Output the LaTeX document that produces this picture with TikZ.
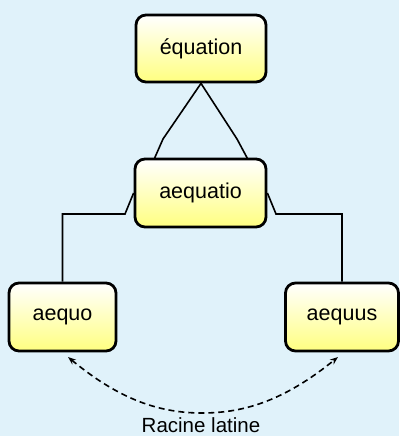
\documentclass[tikz,border=0pt]{standalone}
\usepackage{fontspec}
\setmainfont{Liberation Sans}
\usetikzlibrary{arrows.meta}
\definecolor{bg}{HTML}{E0F2FA}
\definecolor{boxbot}{HTML}{FFFF80}
\begin{document}
\begin{tikzpicture}[x=1pt,y=-1pt,
  wordbox/.style={draw=black, line width=2.8pt, rounded corners=10pt, top color=white, bottom color=boxbot, minimum height=67pt, inner sep=0pt, font=\fontsize{21.5}{24}\selectfont},
  link/.style={line width=1.6pt, black},
  rootarrow/.style={line width=1.6pt, dashed, dash pattern=on 6pt off 4pt, {Stealth[length=8pt,width=6pt]}-{Stealth[length=8pt,width=6pt]}}
]
\fill[bg] (0,0) rectangle (399,436);
\useasboundingbox (0,0) rectangle (399,436);
\node[wordbox, minimum width=130pt] (eq) at (201,48.5) {équation};
\node[wordbox, minimum width=131pt, minimum height=68pt] (aeq) at (200.5,193) {aequatio};
\node[wordbox, minimum width=107pt, minimum height=68pt] (aequo) at (62.5,317) {aequo};
\node[wordbox, minimum width=113pt, minimum height=68pt] (aequus) at (342,317) {aequus};
\coordinate (l1) at (163,139);
\coordinate (r1) at (237,139);
\draw[link] (eq.south) -- (l1) -- (154,159.5);
\draw[link] (eq.south) -- (r1) -- (248,159.5);
\draw[link] (aeq.west) -- (125,214) -- (62.5,214) -- (aequo.north);
\draw[link] (aeq.east) -- (276,214) -- (342,214) -- (aequus.north);
\coordinate (lo) at (68,357);
\coordinate (ro) at (338,357);
\draw[rootarrow] (lo) .. controls (120,400) and (160,413) .. (202,413) .. controls (245,413) and (285,400) .. (ro);
\node[font=\fontsize{20.5}{24}\selectfont, anchor=center] (lbl) at (201,425) {Racine latine};
\end{tikzpicture}
\end{document}
